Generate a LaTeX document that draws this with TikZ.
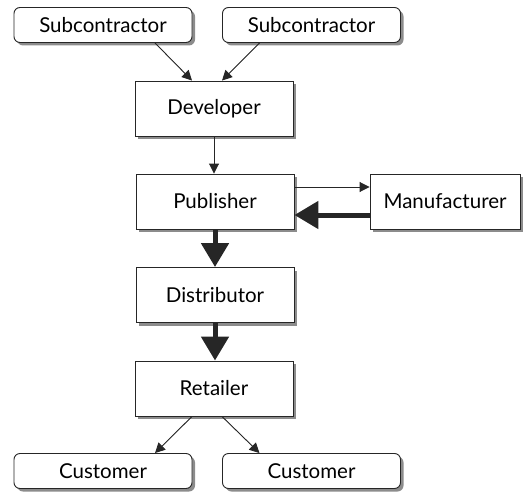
\documentclass[tikz,border=0pt]{standalone}
\usepackage{fontspec}
\setmainfont{Lato}
\usetikzlibrary{arrows.meta,shadows}
\begin{document}
\begin{tikzpicture}[x=1pt,y=-1pt,
  box/.style={draw=black!85, line width=0.9pt, fill=white, inner sep=0pt,
    font=\fontsize{20.5}{24}\selectfont, text=black,
    drop shadow={shadow xshift=3pt, shadow yshift=-3pt, fill=black!45, opacity=1}},
  party/.style={box, rounded corners=6pt, minimum width=178pt, minimum height=35pt},
  firm/.style={box, minimum width=158pt, minimum height=55pt},
  thin/.style={-{Triangle[length=10pt,width=10pt]}, line width=0.9pt, draw=black!85, fill=black!85},
  heavy/.style={-{Triangle[length=24pt,width=27pt]}, line width=5pt, draw=black!85, fill=black!85}]
\useasboundingbox (0,0) rectangle (524,492);

\node[party] (sub1) at (103,25) {Subcontractor};
\node[party] (sub2) at (311.5,25) {Subcontractor};
\node[firm] (dev) at (214,108.5) {Developer};
\node[firm] (pub) at (215,201.5) {Publisher};
\node[firm, minimum width=150pt] (man) at (445,201.5) {Manufacturer};
\node[firm] (dist) at (215,295) {Distributor};
\node[firm] (ret) at (214,388.5) {Retailer};
\node[party] (cus1) at (103,471) {Customer};
\node[party] (cus2) at (311.5,471) {Customer};

\draw[thin] ([xshift=52pt]sub1.south) -- ([xshift=-22pt]dev.north);
\draw[thin] ([xshift=-52pt]sub2.south) -- ([xshift=8pt]dev.north);
\draw[thin] (dev.south) -- (dev.south |- pub.north);
\draw[thin] ([yshift=14.5pt]pub.east) -- ([yshift=14.5pt]man.west);
\draw[heavy] ([yshift=-13.5pt]man.west) -- ([yshift=-13.5pt]pub.east);
\draw[heavy] (pub.south) -- (dist.north);
\draw[heavy] (dist.south) -- (dist.south |- ret.north);
\draw[thin] ([xshift=-22pt]ret.south) -- ([xshift=52pt]cus1.north);
\draw[thin] ([xshift=8pt]ret.south) -- ([xshift=-52pt]cus2.north);
\end{tikzpicture}
\end{document}
